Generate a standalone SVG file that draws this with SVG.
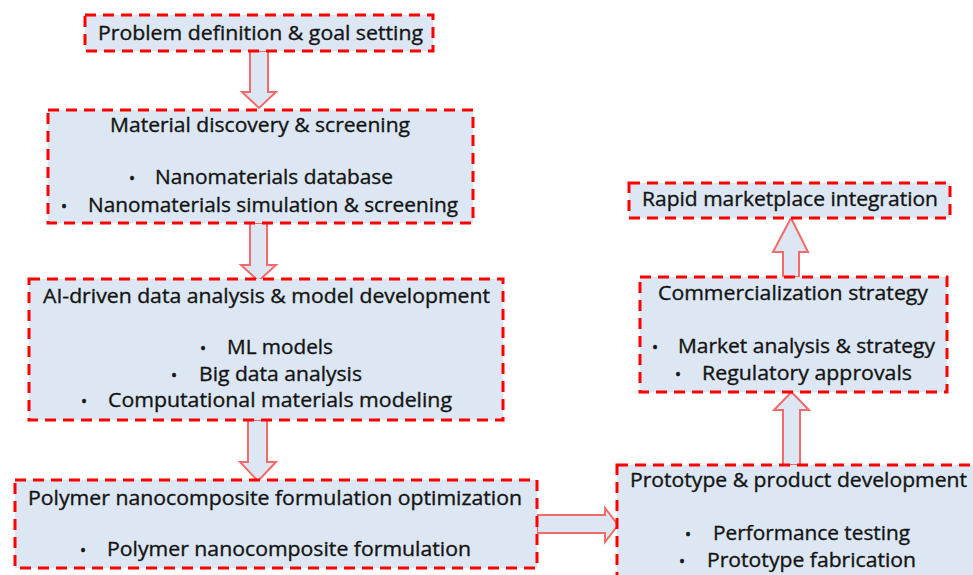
<svg xmlns="http://www.w3.org/2000/svg" width="973" height="575" viewBox="0 0 973 575">
<style>
.box{fill:#dce7f3;stroke:#ff0000;stroke-width:3;stroke-dasharray:11 7}
.arr{fill:#dce7f3;stroke:#f36a6a;stroke-width:2;stroke-linejoin:miter}
text{font-family:"Open Sans","Noto Sans","Liberation Sans",sans-serif;font-size:19.5px;fill:#141414;stroke:#141414;stroke-width:0.35}
.b{font-size:16px;stroke-width:0.6}
</style>
<rect width="973" height="575" fill="#ffffff"/>
<g id="connectors">
<polygon class="arr" points="250,51 268,51 268,92 276,92 259,108 242,92 250,92"/>
<polygon class="arr" points="250,223 267,223 267,265 276,265 258.5,281 241,265 250,265"/>
<polygon class="arr" points="248,420 267,420 267,462 276,462 258,481 240,462 248,462"/>
<polygon class="arr" points="537,515 605,515 605,508 618,525 605,542 605,533 537,533"/>
<polygon class="arr" points="783,465 800,465 800,410 809,410 791.5,392 774,410 783,410"/>
<polygon class="arr" points="783,277 799,277 799,252 808,252 791,218 773,252 783,252"/>
</g>
<g id="n1">
<rect class="box" x="85" y="15" width="348" height="36"/>
<text x="98" y="40" textLength="325" lengthAdjust="spacingAndGlyphs">Problem definition &amp; goal setting</text>
</g>
<g id="n2">
<rect class="box" x="48" y="110" width="425" height="113"/>
<text x="110" y="132" textLength="300" lengthAdjust="spacingAndGlyphs">Material discovery &amp; screening</text>
<text class="b" x="132" y="184" text-anchor="middle">•</text>
<text x="155" y="184" textLength="238" lengthAdjust="spacingAndGlyphs">Nanomaterials database</text>
<text class="b" x="64" y="212" text-anchor="middle">•</text>
<text x="88" y="212" textLength="370" lengthAdjust="spacingAndGlyphs">Nanomaterials simulation &amp; screening</text>
</g>
<g id="n3">
<rect class="box" x="29" y="279" width="474" height="141"/>
<text x="43" y="303" textLength="447" lengthAdjust="spacingAndGlyphs">AI-driven data analysis &amp; model development</text>
<text class="b" x="203" y="354" text-anchor="middle">•</text>
<text x="227" y="354" textLength="106" lengthAdjust="spacingAndGlyphs">ML models</text>
<text class="b" x="174" y="381" text-anchor="middle">•</text>
<text x="199" y="381" textLength="163" lengthAdjust="spacingAndGlyphs">Big data analysis</text>
<text class="b" x="84" y="407" text-anchor="middle">•</text>
<text x="108" y="407" textLength="344" lengthAdjust="spacingAndGlyphs">Computational materials modeling</text>
</g>
<g id="n4">
<rect class="box" x="15" y="480" width="522" height="88"/>
<text x="28" y="505" textLength="494" lengthAdjust="spacingAndGlyphs">Polymer nanocomposite formulation optimization</text>
<text class="b" x="83" y="556" text-anchor="middle">•</text>
<text x="107" y="556" textLength="364" lengthAdjust="spacingAndGlyphs">Polymer nanocomposite formulation</text>
</g>
<g id="n5">
<rect class="box" x="640" y="277" width="307" height="115"/>
<text x="658" y="300" textLength="270" lengthAdjust="spacingAndGlyphs">Commercialization strategy</text>
<text class="b" x="655" y="353" text-anchor="middle">•</text>
<text x="678" y="353" textLength="257" lengthAdjust="spacingAndGlyphs">Market analysis &amp; strategy</text>
<text class="b" x="678" y="380" text-anchor="middle">•</text>
<text x="702" y="380" textLength="210" lengthAdjust="spacingAndGlyphs">Regulatory approvals</text>
</g>
<g id="n6">
<rect class="box" x="617" y="465" width="370" height="130"/>
<text x="630" y="487" textLength="337" lengthAdjust="spacingAndGlyphs">Prototype &amp; product development</text>
<text class="b" x="688" y="540" text-anchor="middle">•</text>
<text x="713" y="540" textLength="197" lengthAdjust="spacingAndGlyphs">Performance testing</text>
<text class="b" x="682" y="567" text-anchor="middle">•</text>
<text x="707" y="567" textLength="209" lengthAdjust="spacingAndGlyphs">Prototype fabrication</text>
</g>
<g id="n7">
<rect class="box" x="629" y="183" width="321" height="35"/>
<text x="642" y="206" textLength="296" lengthAdjust="spacingAndGlyphs">Rapid marketplace integration</text>
</g>
</svg>
